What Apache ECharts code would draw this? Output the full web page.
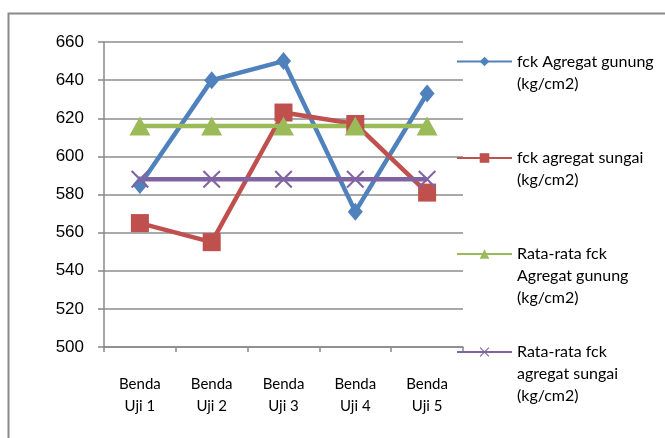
<!DOCTYPE html>
<html><head><meta charset="utf-8">
<script src="https://cdn.jsdelivr.net/npm/echarts@6/dist/echarts.min.js"></script>
<style>html,body{margin:0;padding:0;background:#fff}#c{width:665px;height:438px}</style>
</head><body><div id="c"></div>
<script>
const categories = ['Benda\nUji 1','Benda\nUji 2','Benda\nUji 3','Benda\nUji 4','Benda\nUji 5'];
const gunung = [585, 640, 650, 571, 633];
const sungai = [565, 555, 623, 617, 581];
const rataGunung = [616, 616, 616, 616, 616];
const rataSungai = [588, 588, 588, 588, 588];
const names = ['fck Agregat gunung\n(kg/cm2)','fck agregat sungai\n(kg/cm2)','Rata-rata fck\nAgregat gunung\n(kg/cm2)','Rata-rata fck\nagregat sungai\n(kg/cm2)'];
const colors = ['#4F81BD','#C0504D','#9BBB59','#8064A2'];
const yTicks = {min:500, max:660, interval:20};

const FONT = 'Lato';
const LH = 22;
const crossPath = 'path://M0,0.8L0.8,0L5,4.2L9.2,0L10,0.8L5.8,5L10,9.2L9.2,10L5,5.8L0.8,10L0,9.2L4.2,5Z';
const iconY = [61.5, 158, 254, 352];

function mkLegend(i){
  const n = names[i].split('\n').length;
  return {
    data:[names[i]], orient:'vertical', left:456, top: iconY[i] - (2*n-1)*LH/2,
    padding:0, itemWidth:55, itemHeight:12,
    lineStyle:{width:2},
    formatter: function(name){ return ' \n'.repeat(n-1) + name; },
    textStyle:{fontFamily:FONT, fontSize:16, color:'#000', lineHeight:LH},
    selectedMode:false
  };
}

const chart = echarts.init(document.getElementById('c'));
chart.setOption({
  animation:false,
  graphic:[{type:'rect', shape:{x:8.5,y:13.5,width:800,height:600}, style:{fill:'none', stroke:'#8a8a8a', lineWidth:2}, silent:true}],
  grid:{left:104, right:202, top:42, bottom:91},
  legend:[0,1,2,3].map(mkLegend),
  xAxis:{type:'category', data:categories, boundaryGap:true,
    axisLine:{lineStyle:{color:'#888', width:1.5}},
    axisTick:{show:true, interval:0, length:5, lineStyle:{color:'#888', width:1.5}},
    axisLabel:{fontFamily:FONT, fontSize:15, color:'#000', lineHeight:LH, margin:26, interval:0}},
  yAxis:{type:'value', min:yTicks.min, max:yTicks.max, interval:yTicks.interval,
    axisLine:{show:true, lineStyle:{color:'#888', width:1.5}},
    axisTick:{show:true, length:6, lineStyle:{color:'#888', width:1.5}},
    splitLine:{lineStyle:{color:'#8c8c8c', width:1.5}},
    axisLabel:{fontFamily:'Liberation Sans', fontSize:17, color:'#000', margin:20}},
  series:[
    {name:names[0], type:'line', data:gunung, symbol:'diamond', symbolSize:[15,18], color:colors[0], lineStyle:{width:4.5}, itemStyle:{color:colors[0]}},
    {name:names[1], type:'line', data:sungai, symbol:'rect', symbolSize:18, color:colors[1], lineStyle:{width:4.5}, itemStyle:{color:colors[1]}},
    {name:names[2], type:'line', data:rataGunung, symbol:'triangle', symbolSize:[21,19], color:colors[2], lineStyle:{width:4.5}, itemStyle:{color:colors[2]}},
    {name:names[3], type:'line', data:rataSungai, symbol:crossPath, symbolSize:18, color:colors[3], lineStyle:{width:4.5}, itemStyle:{color:colors[3]}}
  ]
});
</script></body></html>
